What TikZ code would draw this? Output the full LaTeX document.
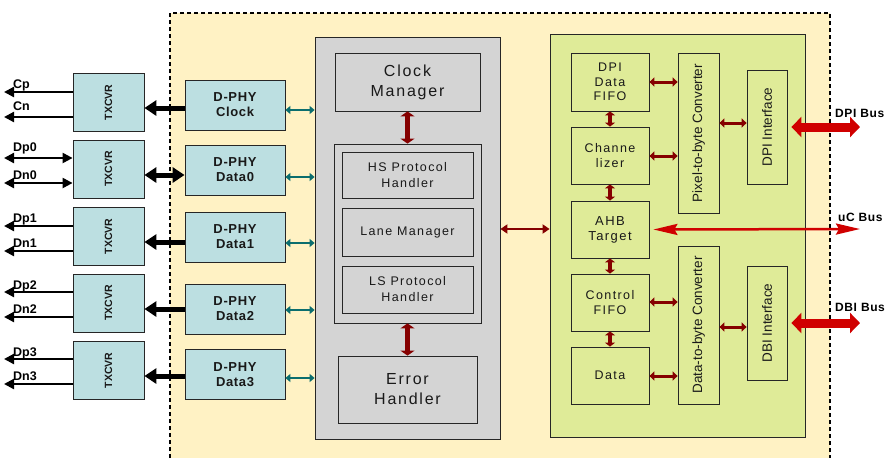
\documentclass[tikz,border=0pt]{standalone}
\usepackage{fontspec}
\setmainfont{Liberation Sans}
\newfontfamily\spc[LetterSpace=11]{Liberation Sans}
\newfontfamily\spcs[LetterSpace=5]{Liberation Sans}
\usetikzlibrary{arrows.meta}
\definecolor{bgyellow}{HTML}{FFF2C4}
\definecolor{boxgray}{HTML}{D4D4D4}
\definecolor{boxgreen}{HTML}{DFEB98}
\definecolor{boxteal}{HTML}{BCDFE1}
\definecolor{tealarrow}{HTML}{0B6E6E}
\definecolor{darkred}{HTML}{850000}
\definecolor{busred}{HTML}{D00000}
\begin{document}
\begin{tikzpicture}[x=1pt,y=-1pt,
  box/.style={draw=black!85, line width=0.8pt, inner sep=0pt, align=center, text=black!90},
  graybox/.style={box, fill=boxgray},
  greenbox/.style={box, fill=boxgreen},
  tealbox/.style={box, fill=boxteal},
  txbox/.style={tealbox, minimum width=71pt, minimum height=58pt, font={\fontsize{10.5}{12}\selectfont\bfseries}},
  phybox/.style={tealbox, minimum width=100pt, minimum height=50pt, font={\spcs\fontsize{13}{15}\selectfont\bfseries}},
  colbox/.style={greenbox, minimum width=78pt, minimum height=57pt, font={\spc\fontsize{12.5}{14.5}\selectfont}},
  vbox/.style={greenbox, minimum width=40pt, font={\fontsize{13.5}{15}\selectfont}},
  blkthick/.style={line width=5pt, -{Triangle[length=12pt,width=15pt]}},
  blkthin/.style={line width=2.2pt, -{Triangle[length=10pt,width=10pt]}},
  teal/.style={draw=tealarrow, line width=2pt, {Triangle[length=5pt,width=8pt]}-{Triangle[length=5pt,width=8pt]}},
  dredv/.style={draw=darkred, line width=5pt, {Triangle[length=5pt,width=14pt]}-{Triangle[length=5pt,width=14pt]}},
  dredc/.style={draw=darkred, line width=4pt, {Triangle[length=4pt,width=10pt]}-{Triangle[length=4pt,width=10pt]}},
  dreds/.style={draw=darkred, line width=3pt, {Triangle[length=5pt,width=9pt]}-{Triangle[length=5pt,width=9pt]}},
  dredm/.style={draw=darkred, line width=2.5pt, {Triangle[length=7pt,width=9pt]}-{Triangle[length=7pt,width=9pt]}},
  bus/.style={draw=busred, line width=9pt, {Triangle[length=10pt,width=20pt]}-{Triangle[length=10pt,width=20pt]}},
  ucbus/.style={draw=busred, line width=2.5pt, {Stealth[length=24pt,width=11pt,inset=3pt]}-{Stealth[length=24pt,width=11pt,inset=3pt]}},
  pinlbl/.style={anchor=base west, inner sep=0pt, font={\fontsize{12.5}{14}\selectfont\bfseries}},
  buslbl/.style={anchor=base west, inner sep=0pt, font={\spcs\fontsize{12}{14}\selectfont\bfseries}}
]
\useasboundingbox (0,0) rectangle (885,458);
\fill[white] (0,0) rectangle (885,458);
% dashed core region
\fill[bgyellow] (170,13) rectangle (830,458);
\draw[line width=1.6pt, dash pattern=on 4pt off 3pt] (170,458) -- (170,13) -- (830,13) -- (830,458);

% gray block
\node[graybox, minimum width=185pt, minimum height=402pt] (grayblk) at (407.5,238) {};
\node[graybox, minimum width=145pt, minimum height=58pt, font={\spc\fontsize{16}{20}\selectfont}] (clk) at (407.5,82) {Clock\\Manager};
\node[graybox, minimum width=147pt, minimum height=179pt] (inner) at (407.5,233.5) {};
\node[graybox, minimum width=131pt, minimum height=46pt, font={\spc\fontsize{12.5}{16}\selectfont}] (hs) at (407.5,175) {HS Protocol\\Handler};
\node[graybox, minimum width=131pt, minimum height=48pt, font={\spc\fontsize{12.5}{16}\selectfont}] (lane) at (407.5,232) {Lane Manager};
\node[graybox, minimum width=131pt, minimum height=47pt, font={\spc\fontsize{12.5}{16}\selectfont}] (ls) at (407.5,289.5) {LS Protocol\\Handler};
\node[graybox, minimum width=139pt, minimum height=67pt, font={\spc\fontsize{16}{20}\selectfont}] (err) at (407.5,389.5) {Error\\Handler};
\draw[dredv] (clk.south) -- (inner.north);
\draw[dredv] (inner.south) -- (err.north);

% green block
\node[greenbox, minimum width=255pt, minimum height=403pt] (green) at (677.5,235.5) {};
\node[colbox, minimum height=58pt] (fifo) at (610,82) {DPI\\Data\\FIFO};
\node[colbox] (chan) at (610,155.5) {Channe\\lizer};
\node[colbox, font={\spc\fontsize{13}{15}\selectfont}] (ahb) at (610,229.5) {AHB\\Target};
\node[colbox] (ctrl) at (610,302.5) {Control\\FIFO};
\node[colbox] (data) at (610,375.5) {Data};
\node[vbox, minimum width=41pt, minimum height=160pt] (p2b) at (698.5,133) {\rotatebox{90}{Pixel-to-byte Converter}};
\node[vbox, minimum height=114pt] (dpiif) at (767,127) {\rotatebox{90}{DPI Interface}};
\node[vbox, minimum width=41pt, minimum height=158pt] (d2b) at (698.5,325) {\rotatebox{90}{Data-to-byte Converter}};
\node[vbox, minimum height=114pt] (dbiif) at (767,323) {\rotatebox{90}{DBI Interface}};

\draw[dredc] (fifo.south) -- (chan.north);
\draw[dredc] (chan.south) -- (ahb.north);
\draw[dredc] (ahb.south) -- (ctrl.north);
\draw[dredc] (ctrl.south) -- (data.north);
\draw[dreds] (fifo.east |- 0,82) -- (p2b.west |- 0,82);
\draw[dreds] (chan.east |- 0,156) -- (p2b.west |- 0,156);
\draw[dreds] (p2b.east |- 0,123) -- (dpiif.west |- 0,123);
\draw[dreds] (ctrl.east |- 0,302) -- (d2b.west |- 0,302);
\draw[dreds] (data.east |- 0,376) -- (d2b.west |- 0,376);
\draw[dreds] (d2b.east |- 0,327) -- (dbiif.west |- 0,327);
\draw[dredm] (grayblk.east |- 0,229) -- (green.west |- 0,229);

% buses
\coordinate (dpiend) at (860,127);
\coordinate (ucend) at (860,229);
\coordinate (dbiend) at (860,323);
\draw[bus] ([xshift=4pt]dpiif.east) -- (dpiend);
\draw[bus] ([xshift=4pt]dbiif.east) -- (dbiend);
\draw[ucbus] ([xshift=4pt]ahb.east) -- (ucend);
\node[buslbl] (dpil) at (835,117) {DPI Bus};
\node[buslbl] (ucl) at (838,221) {uC Bus};
\node[buslbl] (dbil) at (835,311) {DBI Bus};

% D-PHY and TXCVR
\node[phybox] (dC) at (235,105) {D-PHY\\Clock};
\node[phybox] (d0) at (235,170) {D-PHY\\Data0};
\node[phybox] (d1) at (235,237) {D-PHY\\Data1};
\node[phybox] (d2) at (235,309) {D-PHY\\Data2};
\node[phybox] (d3) at (235,374.5) {D-PHY\\Data3};
\node[txbox] (tC) at (108.5,102.5) {\rotatebox{90}{TXCVR}};
\node[txbox] (t0) at (108.5,169) {\rotatebox{90}{TXCVR}};
\node[txbox] (t1) at (108.5,236.5) {\rotatebox{90}{TXCVR}};
\node[txbox] (t2) at (108.5,303) {\rotatebox{90}{TXCVR}};
\node[txbox] (t3) at (108.5,370.5) {\rotatebox{90}{TXCVR}};

\draw[teal] (dC.east |- 0,110) -- (grayblk.west |- 0,110);
\draw[teal] (d0.east |- 0,177) -- (grayblk.west |- 0,177);
\draw[teal] (d1.east |- 0,243) -- (grayblk.west |- 0,243);
\draw[teal] (d2.east |- 0,310) -- (grayblk.west |- 0,310);
\draw[teal] (d3.east |- 0,378) -- (grayblk.west |- 0,378);

\draw[blkthick] (dC.west |- 0,108) -- (tC.east |- 0,108);
\draw[blkthick, {Triangle[length=12pt,width=15pt]}-{Triangle[length=12pt,width=15pt]}] (d0.west |- 0,175) -- (t0.east |- 0,175);
\draw[blkthick] (d1.west |- 0,242) -- (t1.east |- 0,242);
\draw[blkthick] (d2.west |- 0,309) -- (t2.east |- 0,309);
\draw[blkthick] (d3.west |- 0,376) -- (t3.east |- 0,376);

% pins
\coordinate (pCp) at (4,92);
\coordinate (pCn) at (4,117);
\coordinate (pDp0) at (4,158);
\coordinate (pDn0) at (4,183);
\coordinate (pDp1) at (4,226);
\coordinate (pDn1) at (4,251);
\coordinate (pDp2) at (4,292);
\coordinate (pDn2) at (4,317);
\coordinate (pDp3) at (4,359);
\coordinate (pDn3) at (4,384);
\draw[blkthin] (tC.west |- pCp) -- (pCp);
\draw[blkthin] (tC.west |- pCn) -- (pCn);
\draw[blkthin, {Triangle[length=10pt,width=10pt]}-{Triangle[length=10pt,width=10pt]}] (t0.west |- pDp0) -- (pDp0);
\draw[blkthin, {Triangle[length=10pt,width=10pt]}-{Triangle[length=10pt,width=10pt]}] (t0.west |- pDn0) -- (pDn0);
\draw[blkthin] (t1.west |- pDp1) -- (pDp1);
\draw[blkthin] (t1.west |- pDn1) -- (pDn1);
\draw[blkthin] (t2.west |- pDp2) -- (pDp2);
\draw[blkthin] (t2.west |- pDn2) -- (pDn2);
\draw[blkthin] (t3.west |- pDp3) -- (pDp3);
\draw[blkthin] (t3.west |- pDn3) -- (pDn3);
\node[pinlbl] (lCp) at (13,88) {Cp};
\node[pinlbl] (lCn) at (13,110) {Cn};
\node[pinlbl] (lDp0) at (13,151) {Dp0};
\node[pinlbl] (lDn0) at (13,179) {Dn0};
\node[pinlbl] (lDp1) at (13,222) {Dp1};
\node[pinlbl] (lDn1) at (13,247) {Dn1};
\node[pinlbl] (lDp2) at (13,289) {Dp2};
\node[pinlbl] (lDn2) at (13,313) {Dn2};
\node[pinlbl] (lDp3) at (13,356) {Dp3};
\node[pinlbl] (lDn3) at (13,380) {Dn3};
\end{tikzpicture}
\end{document}
